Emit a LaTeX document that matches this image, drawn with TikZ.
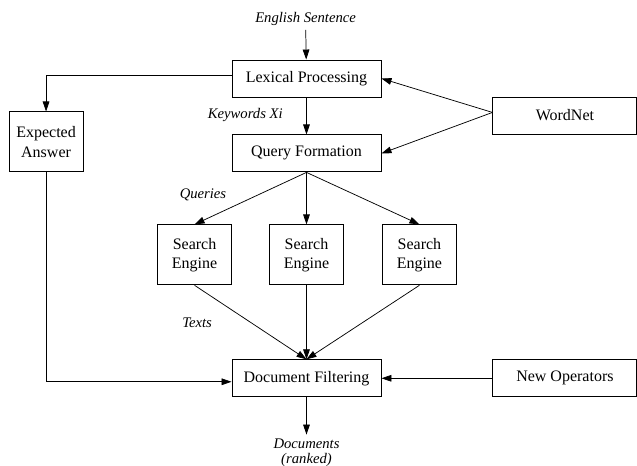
\documentclass[tikz,border=0pt]{standalone}
\usepackage{fontspec}
\setmainfont{Liberation Serif}
\usetikzlibrary{arrows.meta,positioning}

\begin{document}
\begin{tikzpicture}[font=\fontsize{12}{14.5}\selectfont,
  box/.style={draw,line width=0.7pt,minimum width=111.75pt,minimum height=27.75pt},
  side/.style={box,minimum width=108pt},
  se/.style={box,align=center,minimum width=55.5pt,minimum height=45pt},
  lbl/.style={font=\fontsize{11}{11.5}\selectfont\itshape},
  ar/.style={-{Triangle[length=7.5pt,width=5pt]},line width=0.55pt}]
  \useasboundingbox (-229.875pt,58.875pt) rectangle (247.875pt,-290.625pt);
  \node[box] (lex) {Lexical Processing};
  \node[box,below=27.75pt of lex] (qf) {Query Formation};
  \node[se,below=39pt of qf] (se2) {Search\\Engine};
  \node[se,left=27.75pt of se2] (se1) {Search\\Engine};
  \node[se,right=28.5pt of se2] (se3) {Search\\Engine};
  \node[box,below=55.5pt of se2] (df) {Document Filtering};
  \node[se,left=111pt of qf,yshift=8.6pt] (exp) {Expected\\Answer};
  \node[side,right=83.25pt of lex,yshift=-27.75pt] (wn) {WordNet};
  \node[side,right=83.25pt of df] (nop) {New Operators};
  % labels on the flow
  \node[lbl,anchor=base] (sent) at ([xshift=-0.7pt,yshift=28.1pt]lex.north) {English Sentence};
  \node[lbl,anchor=base east] (kw) at ([xshift=-14.3pt,yshift=-16.1pt]lex.south) {Keywords Xi};
  \node[lbl,anchor=base east] (qs) at ([xshift=-56.7pt,yshift=-19.5pt]qf.south) {Queries};
  \node[lbl,anchor=base east] (tx) at ([xshift=-67.4pt,yshift=24pt]df.north) {Texts};
  \node[lbl,align=center,inner sep=3pt,below=28pt of df] (docs) {Documents\\(ranked)};
  \draw[ar] (sent)--(lex); \draw[ar] (lex)--(qf); \draw[ar] (df)--(docs);
  \draw[ar] ([yshift=2.6pt]lex.west) -| (exp); \draw[ar] (exp) |- ([yshift=-2.6pt]df.west);
  \draw[ar] ([yshift=2.3pt]wn.west)--(lex.east); \draw[ar] ([yshift=2.3pt]wn.west)--(qf.east);
  \draw[ar] (qf.south)--(se1.north); \draw[ar] (qf.south)--(se2.north); \draw[ar] (qf.south)--(se3.north);
  \draw[ar] (se1.south)--(df.north); \draw[ar] (se2.south)--(df.north); \draw[ar] (se3.south)--(df.north);
  \draw[ar] (nop)--(df);
\end{tikzpicture}
\end{document}
